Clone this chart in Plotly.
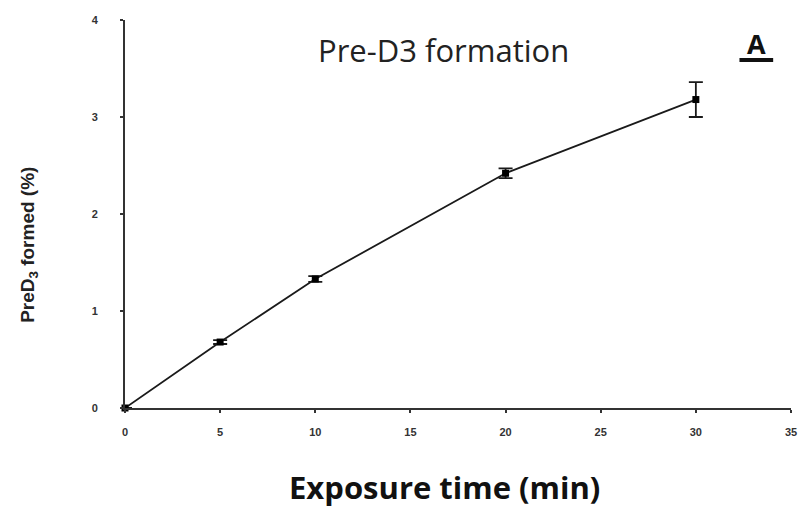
import plotly.graph_objects as go

# Data
exposure_min = [0, 5, 10, 20, 30]
pred3_pct = [0, 0.68, 1.33, 2.42, 3.18]
pred3_err = [0, 0.02, 0.03, 0.05, 0.18]
x_ticks = [0, 5, 10, 15, 20, 25, 30, 35]
y_ticks = [0, 1, 2, 3, 4]

L, R, T, B = 125, 797, 20, 408

fig = go.Figure()
fig.add_trace(go.Scatter(
    x=exposure_min, y=pred3_pct,
    mode="lines+markers",
    line=dict(color="#1a1a1a", width=1.8),
    marker=dict(symbol="square", size=7, color="#000000"),
    error_y=dict(type="data", array=pred3_err, visible=True,
                 color="#1a1a1a", thickness=1.8, width=7),
    cliponaxis=False,
    showlegend=False,
))

tickfont = dict(size=11, family="Liberation Sans, Arial", color="#333", weight="bold")
fig.update_layout(
    width=806, height=507,
    margin=dict(l=L, r=806 - R, t=T, b=507 - B),
    paper_bgcolor="white", plot_bgcolor="white",
    font=dict(family="Liberation Sans, Arial, sans-serif", color="#222"),
    xaxis=dict(
        range=[0, 35], tickvals=x_ticks, ticktext=[str(v) for v in x_ticks],
        showline=True, linecolor="#333", linewidth=2,
        ticks="outside", ticklen=3, tickwidth=2, tickcolor="#333",
        showgrid=False, zeroline=False, tickfont=tickfont,
        ticklabelstandoff=10,
    ),
    yaxis=dict(
        range=[0, 4], tickvals=y_ticks, ticktext=[str(v) for v in y_ticks],
        showline=True, linecolor="#333", linewidth=2,
        ticks="outside", ticklen=3, tickwidth=2, tickcolor="#333",
        showgrid=False, zeroline=False, tickfont=tickfont,
        ticklabelstandoff=20,
    ),
)

def px(xp):
    return (xp - L) / (R - L)
def py(yp):
    return (B - yp) / (B - T)

fig.add_annotation(
    x=px(446), y=py(50), xref="paper", yref="paper", text="Pre-D3 formation",
    showarrow=False, xanchor="center", yanchor="middle",
    font=dict(size=31, family="Open Sans, sans-serif", color="#222"),
)
fig.add_annotation(
    x=px(447), y=py(487), xref="paper", yref="paper", text="<b>Exposure time (min)</b>",
    showarrow=False, xanchor="center", yanchor="middle",
    font=dict(size=31, family="Open Sans, sans-serif", color="#111"),
)
fig.add_annotation(
    x=px(28), y=py(245), xref="paper", yref="paper",
    text="<b>PreD<sub>3</sub> formed (%)</b>", textangle=-90,
    showarrow=False, xanchor="center", yanchor="middle",
    font=dict(size=19, family="Liberation Sans, Arial", color="#222"),
)
fig.add_annotation(
    x=px(762), y=py(43), xref="paper", yref="paper", text="<b>A</b>",
    showarrow=False, xanchor="center", yanchor="middle",
    font=dict(size=27, family="Open Sans, sans-serif", color="#111"),
)
fig.add_shape(type="line", xref="paper", yref="paper",
              x0=px(745), x1=px(779), y0=py(60), y1=py(60),
              line=dict(color="#111", width=4))

fig.write_html("out.html")
